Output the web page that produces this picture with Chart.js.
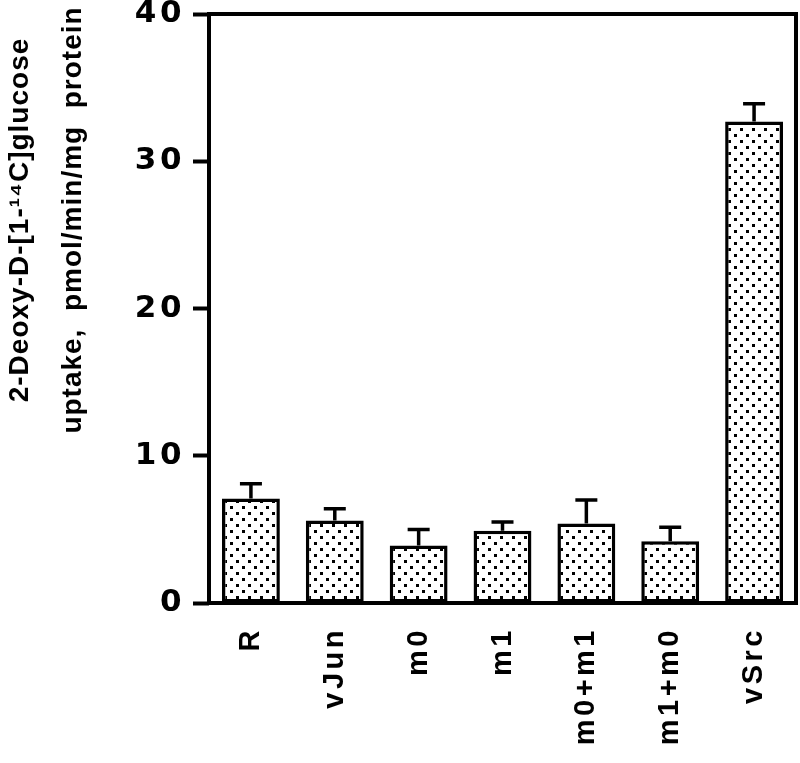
<!DOCTYPE html>
<html>
<head>
<meta charset="utf-8">
<script src="https://cdn.jsdelivr.net/npm/chart.js@4/dist/chart.umd.min.js"></script>
<style>
body { margin: 0; background: #fff; }
</style>
</head>
<body>
<canvas id="myChart" width="800" height="763"></canvas>
<script>
// chart data
var labels = ['R', 'vJun', 'm0', 'm1', 'm0+m1', 'm1+m0', 'vSrc'];
var uptake = [7.1, 5.6, 3.9, 4.9, 5.4, 4.2, 32.7];
var uptakeErr = [1.0, 0.8, 1.1, 0.6, 1.6, 0.95, 1.2];
var yTicks = [0, 10, 20, 30, 40];
var yTitle = ['2-Deoxy-D-[1-\u00b9\u2074C]glucose', 'uptake,  pmol/min/mg  protein'];

Chart.defaults.font.family = 'Liberation Sans';

var ctx = document.getElementById('myChart').getContext('2d');

// dotted fill like the printed figure
function dotPattern() {
    var c = document.createElement('canvas');
    c.width = 12; c.height = 12;
    var g = c.getContext('2d');
    g.fillStyle = '#fff';
    g.fillRect(0, 0, 12, 12);
    g.fillStyle = '#000';
    g.fillRect(2, 2, 3, 3);
    g.fillRect(8, 8, 3, 3);
    return ctx.createPattern(c, 'repeat');
}

// wider letter spacing, like the original type
var spacing = {
    id: 'spacing',
    beforeLayout: function(chart) { chart.ctx.letterSpacing = '3.5px'; },
    beforeDraw: function(chart) { chart.ctx.letterSpacing = '3.5px'; }
};

// error bars (upper half only) + frame + y title
var extras = {
    id: 'extras',
    afterDatasetsDraw: function(chart) {
        var c = chart.ctx, y = chart.scales.y, a = chart.chartArea;
        var bars = chart.getDatasetMeta(0).data;
        c.save();
        c.strokeStyle = '#000';
        c.lineWidth = 3.5;
        for (var i = 0; i < bars.length; i++) {
            var x = bars[i].x;
            var y0 = y.getPixelForValue(uptake[i]);
            var y1 = y.getPixelForValue(uptake[i] + uptakeErr[i]);
            c.beginPath();
            c.moveTo(x, y0);
            c.lineTo(x, y1);
            c.moveTo(x - 11, y1);
            c.lineTo(x + 11, y1);
            c.stroke();
        }
        c.lineWidth = 4;
        c.strokeRect(a.left, a.top, a.right - a.left, a.bottom - a.top);
        c.restore();
    },
    afterDraw: function(chart) {
        var c = chart.ctx;
        c.save();
        c.letterSpacing = '1px';
        c.fillStyle = '#000';
        c.font = 'bold 28px "Liberation Sans"';
        c.textAlign = 'center';
        c.textBaseline = 'alphabetic';
        c.translate(28, 220);
        c.rotate(-Math.PI / 2);
        c.fillText(yTitle[0], 0, 0);
        c.fillText(yTitle[1], 0, 53);
        c.restore();
    }
};

var myChart = new Chart(ctx, {
    type: 'bar',
    data: {
        labels: labels,
        datasets: [{
            data: uptake,
            backgroundColor: dotPattern(),
            borderColor: '#000',
            borderWidth: 3.5,
            borderSkipped: false,
            barPercentage: 0.69,
            categoryPercentage: 1
        }]
    },
    options: {
        responsive: false,
        animation: false,
        layout: { padding: { left: 0, right: 4, top: 14, bottom: 0 } },
        plugins: { legend: { display: false }, tooltip: { enabled: false } },
        scales: {
            x: {
                grid: { display: false },
                border: { display: false },
                ticks: {
                    color: '#000',
                    font: { size: 29, weight: 'bold' },
                    minRotation: 90,
                    maxRotation: 90,
                    autoSkip: false,
                    padding: 16
                },
                afterFit: function(s) { s.height = 160; s.paddingLeft = 0; s.paddingRight = 0; }
            },
            y: {
                min: 0,
                max: 40,
                afterBuildTicks: function(s) { s.ticks = yTicks.map(function(v) { return { value: v }; }); },
                grid: { drawOnChartArea: false, tickLength: 16, tickWidth: 4, tickColor: '#000' },
                border: { display: false },
                ticks: {
                    color: '#000',
                    font: { family: 'DejaVu Sans', size: 31, weight: 'bold' },
                    padding: 8
                },
                afterFit: function(s) { s.width = 209; s.paddingTop = 0; s.paddingBottom = 0; }
            }
        }
    },
    plugins: [spacing, extras]
});
</script>
</body>
</html>
